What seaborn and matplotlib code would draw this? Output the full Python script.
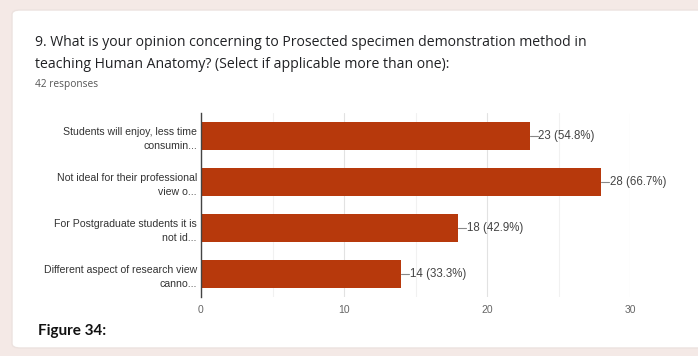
import matplotlib
matplotlib.use("Agg")
import matplotlib.pyplot as plt
from matplotlib.patches import FancyBboxPatch
from matplotlib.ticker import MultipleLocator
import seaborn as sns
import pandas as pd

# Survey answers (labels are truncated as in the form summary)
categories = [
    "Students will enjoy, less time\nconsumin...",
    "Not ideal for their professional\nview o...",
    "For Postgraduate students it is\nnot id...",
    "Different aspect of research view\ncanno...",
]
counts = [23, 28, 18, 14]
total_responses = 42
x_ticks = [0, 10, 20, 30]

title_lines = [
    "9. What is your opinion concerning to Prosected specimen demonstration method in",
    "teaching Human Anatomy? (Select if applicable more than one):",
]

BAR_COLOR = "#b7390c"
PAGE_BG = "#f4e9e6"

sns.set_theme(style="white")
plt.rcParams["font.family"] = ["Liberation Sans", "DejaVu Sans"]

df = pd.DataFrame({"answer": categories, "count": counts})

fig = plt.figure(figsize=(6.98, 3.56), dpi=100)
fig.patch.set_facecolor(PAGE_BG)

# White card behind the question
card = FancyBboxPatch((12 / 698, 8 / 356), 700 / 698, 338 / 356,
                      boxstyle="round,pad=0,rounding_size=0.012",
                      transform=fig.transFigure, facecolor="white",
                      edgecolor="#ece2df", linewidth=1.0, zorder=-5)
fig.patches.append(card)

ax = fig.add_axes([201 / 698, 1 - 297 / 356, 429 / 698, 184 / 356])
ax.set_facecolor("white")

sns.barplot(data=df, x="count", y="answer", orient="h", color=BAR_COLOR,
            saturation=1, width=0.63, linewidth=0, ax=ax, zorder=3)

ax.set_xlim(0, 30)
ax.set_ylim(3.5, -0.5)
ax.set_xticks(x_ticks)
ax.xaxis.set_minor_locator(MultipleLocator(5))
ax.grid(axis="x", which="major", color="#e2e2e2", linewidth=0.8, zorder=0)
ax.grid(axis="x", which="minor", color="#f1f1f1", linewidth=0.8, zorder=0)
ax.set_axisbelow(True)

for side in ["top", "right", "bottom"]:
    ax.spines[side].set_visible(False)
ax.spines["left"].set_color("#444444")
ax.spines["left"].set_linewidth(1.0)
ax.spines["left"].set_zorder(6)

ax.set_xlabel("")
ax.set_ylabel("")
ax.tick_params(axis="x", which="both", length=0, labelsize=7.5,
               labelcolor="#666666", pad=6)
ax.tick_params(axis="y", length=0, labelsize=7.6, labelcolor="#333333", pad=3)
for lbl in ax.get_yticklabels():
    lbl.set_horizontalalignment("right")
    lbl.set_multialignment("right")
    lbl.set_linespacing(1.55)

# Value labels with short leader lines
for i, c in enumerate(counts):
    pct = c / total_responses * 100
    ax.plot([c, c + 0.55], [i, i], color="#888888", linewidth=0.8,
            zorder=4, clip_on=False)
    ax.text(c + 0.6, i, f"{c} ({pct:.1f}%)", va="center", ha="left",
            fontsize=8.3, color="#444444", zorder=5)

fig.text(35 / 698, 1 - 42 / 356, title_lines[0], fontsize=10.1,
         family=["Open Sans", "DejaVu Sans"], color="#202124", va="center")
fig.text(35 / 698, 1 - 65 / 356, title_lines[1], fontsize=10.1,
         family=["Open Sans", "DejaVu Sans"], color="#202124", va="center")
fig.text(35 / 698, 1 - 84 / 356, f"{total_responses} responses", fontsize=7.3,
         family=["Open Sans", "DejaVu Sans"], color="#555555", va="center")
fig.text(38 / 698, 1 - 331 / 356, "Figure 34:", fontsize=11,
         family=["Lato", "DejaVu Sans"], fontweight="bold", color="#111111",
         va="center")

fig.savefig("out.png", dpi=100, facecolor=fig.get_facecolor())
